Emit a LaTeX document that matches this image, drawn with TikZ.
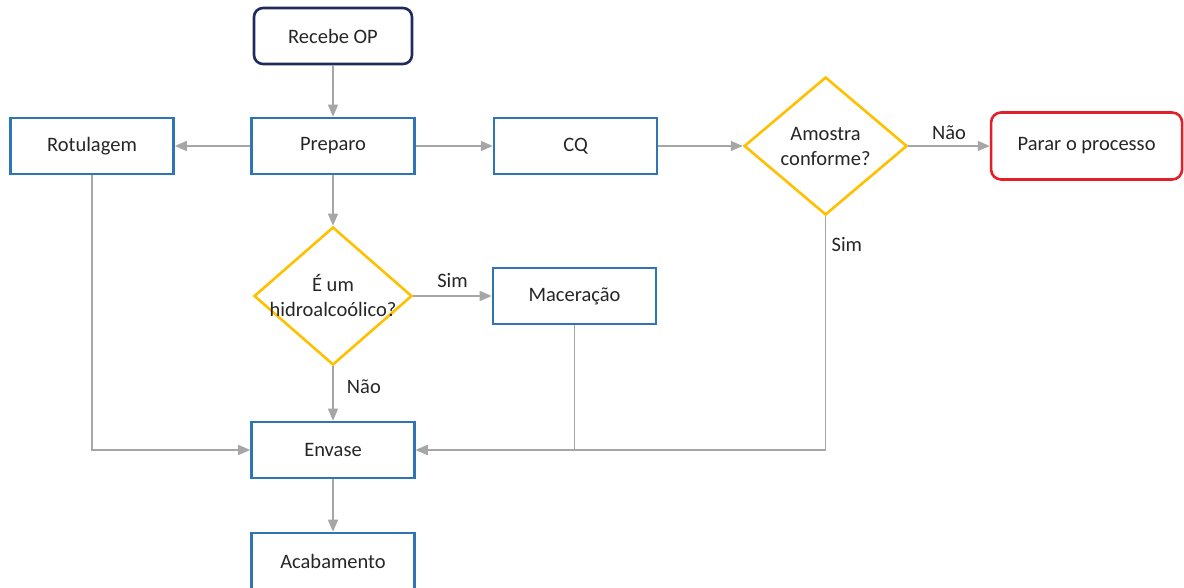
\documentclass[tikz,border=0pt]{standalone}
\usepackage{fontspec}
\setmainfont{Carlito}
\usetikzlibrary{arrows.meta, positioning, shapes.geometric}

\definecolor{boxblue}{HTML}{2E75B6}
\definecolor{navy}{HTML}{1F2A5E}
\definecolor{gold}{HTML}{FFC000}
\definecolor{stopred}{HTML}{E3202A}
\definecolor{linegray}{HTML}{A6A6A6}
\definecolor{txtgray}{HTML}{262626}

\begin{document}
\begin{tikzpicture}[
    x=1pt, y=-1pt,
    every node/.style={font=\fontsize{20.5}{25}\selectfont, text=txtgray},
    stepnode/.style={
        rectangle,
        draw=boxblue,
        line width=2.6pt,
        minimum width=163pt,
        minimum height=56pt,
        align=center
    },
    startnode/.style={
        rectangle,
        rounded corners=9pt,
        draw=navy,
        line width=2.6pt,
        minimum width=158pt,
        minimum height=56pt
    },
    stopnode/.style={
        rectangle,
        rounded corners=10pt,
        draw=stopred,
        line width=2.6pt,
        minimum width=191pt,
        minimum height=67pt
    },
    decision/.style={
        diamond,
        draw=gold,
        line width=2.6pt,
        minimum width=160pt,
        minimum height=138pt,
        inner sep=0pt
    },
    flow/.style={-{Triangle[length=12pt, width=10pt]}, draw=linegray, line width=1.3pt}
]

\useasboundingbox (0,0) rectangle (1184,588);

\node[startnode] (recebe) at (333,36) {Recebe OP};
\node[stepnode, below=51.4pt of recebe] (preparo) {Preparo};
\node[stepnode, left=75.4pt of preparo] (rotulagem) {Rotulagem};
\node[stepnode, right=77pt of preparo] (cq) {CQ};
\node[decision, minimum width=163pt, right=84.4pt of cq,
    label={[align=center]center:Amostra\\conforme?}] (amostra) {};
\node[stopnode, right=81.4pt of amostra] (parar) {Parar o processo};
\node[decision, minimum width=158pt, below=50.4pt of preparo,
    label={[align=center]center:É um\\hidroalcoólico?}] (hidro) {};
\node[stepnode, right=78.4pt of hidro] (maceracao) {Maceração};
\node[stepnode, below=54.4pt of hidro] (envase) {Envase};
\node[stepnode, below=52.4pt of envase] (acabamento) {Acabamento};

\draw[flow] (recebe) -- (preparo);
\draw[flow] (preparo) -- (rotulagem);
\draw[flow] (preparo) -- (cq);
\draw[flow] (cq) -- (amostra);
\draw[flow] (amostra) -- node[above=2pt] {Não} (parar);
\draw[flow] (amostra) |- node[pos=0.06, right=2pt] {Sim} (envase);
\draw[flow] (preparo) -- (hidro);
\draw[flow] (hidro) -- node[above=4pt] {Sim} (maceracao);
\draw[flow] (hidro) -- node[pos=0.38, right=10pt] {Não} (envase);
\draw[flow] (rotulagem) |- (envase);
\draw[flow] (maceracao) |- (envase);
\draw[flow] (envase) -- (acabamento);

\end{tikzpicture}
\end{document}
